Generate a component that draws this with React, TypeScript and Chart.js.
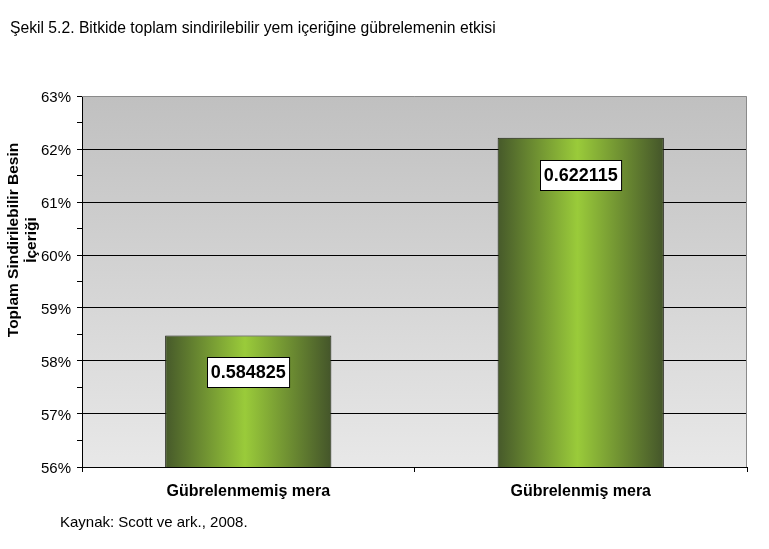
import React, { useEffect, useRef } from "react";
import { Chart, registerables } from "chart.js";

Chart.register(...registerables);

const categories = ["Gübrelenmemiş mera", "Gübrelenmiş mera"];
const values = [0.584825, 0.622115];
const yMin = 0.56;
const yMax = 0.63;
const yStep = 0.005;
const titleText = "Şekil 5.2. Bitkide toplam sindirilebilir yem içeriğine gübrelemenin etkisi";
const sourceText = "Kaynak: Scott ve ark., 2008.";
const yTitleLines = ["Toplam Sindirilebilir Besin", "İçeriği"];

const FONT = "'Liberation Sans', Arial, sans-serif";

export default function App() {
  const ref = useRef<HTMLCanvasElement | null>(null);

  useEffect(() => {
    const canvas = ref.current;
    if (!canvas) return;

    const decor = {
      id: "decor",
      beforeDraw(chart: any) {
        const { ctx, chartArea: a } = chart;
        ctx.save();
        ctx.fillStyle = "#ffffff";
        ctx.fillRect(0, 0, chart.width, chart.height);
        const g = ctx.createLinearGradient(0, a.top, 0, a.bottom);
        g.addColorStop(0, "#c0c0c0");
        g.addColorStop(1, "#e8e8e8");
        ctx.fillStyle = g;
        ctx.fillRect(a.left, a.top, a.right - a.left, a.bottom - a.top);
        ctx.restore();
      },
      beforeDatasetsDraw(chart: any) {
        const { ctx, chartArea: a } = chart;
        ctx.save();
        ctx.strokeStyle = "#8a8a8a";
        ctx.lineWidth = 1;
        ctx.beginPath();
        ctx.moveTo(a.left, a.top + 0.5);
        ctx.lineTo(a.right - 0.5, a.top + 0.5);
        ctx.lineTo(a.right - 0.5, a.bottom);
        ctx.stroke();
        ctx.restore();
      },
      afterDatasetsDraw(chart: any) {
        const { ctx } = chart;
        const meta = chart.getDatasetMeta(0);
        ctx.save();
        ctx.font = `bold 18px ${FONT}`;
        ctx.textAlign = "center";
        ctx.textBaseline = "middle";
        meta.data.forEach((bar: any, i: number) => {
          const txt = String(values[i]);
          const w = ctx.measureText(txt).width + 7;
          const h = 30;
          const cx = bar.x;
          const cy = bar.y + 37;
          const x0 = Math.round(cx - w / 2) + 0.5;
          const y0 = Math.round(cy - h / 2) + 0.5;
          ctx.fillStyle = "#ffffff";
          ctx.fillRect(x0, y0, w, h);
          ctx.strokeStyle = "#000000";
          ctx.lineWidth = 1;
          ctx.strokeRect(x0, y0, w, h);
          ctx.fillStyle = "#000000";
          ctx.fillText(txt, cx, cy + 1);
        });
        ctx.restore();
      },
      afterDraw(chart: any) {
        const { ctx } = chart;
        ctx.save();
        ctx.fillStyle = "#000000";
        ctx.textAlign = "left";
        ctx.textBaseline = "alphabetic";
        ctx.font = `15.7px ${FONT}`;
        ctx.fillText(titleText, 10, 33);
        ctx.font = `15px ${FONT}`;
        ctx.fillText(sourceText, 60, 527);
        ctx.font = `bold 15.5px ${FONT}`;
        ctx.textAlign = "center";
        ctx.textBaseline = "middle";
        ctx.translate(0, 240);
        ctx.rotate(-Math.PI / 2);
        ctx.fillText(yTitleLines[0], 0, 14);
        ctx.fillText(yTitleLines[1], 0, 32);
        ctx.restore();
      },
    };

    const chart = new Chart(canvas, {
      type: "bar",
      data: {
        labels: categories,
        datasets: [
          {
            data: values,
            backgroundColor: (c: any) => {
              const ch = c.chart;
              const a = ch.chartArea;
              if (!a) return "#8fbf3a";
              const x = ch.scales.x.getPixelForValue(c.dataIndex);
              const half = ((a.right - a.left) / categories.length) * 0.5 / 2;
              const g = ch.ctx.createLinearGradient(x - half, 0, x + half, 0);
              g.addColorStop(0, "#46592a");
              g.addColorStop(0.48, "#9acb3a");
              g.addColorStop(1, "#44552a");
              return g;
            },
            borderColor: "#1b1f12",
            borderWidth: 1,
            borderSkipped: false,
            categoryPercentage: 1,
            barPercentage: 0.5,
          },
        ],
      },
      options: {
        responsive: false,
        animation: false,
        devicePixelRatio: 1,
        layout: { padding: { top: 96, right: 22, left: 0, bottom: 0 } },
        plugins: {
          legend: { display: false },
          tooltip: { enabled: false },
          title: { display: false },
        },
        scales: {
          x: {
            afterFit: (s: any) => {
              s.height = 82;
            },
            grid: {
              offset: true,
              drawOnChartArea: false,
              tickLength: 5,
              tickColor: "#000000",
            },
            border: { color: "#000000" },
            ticks: {
              color: "#000000",
              font: { family: FONT, size: 16, weight: "bold" },
              padding: 10,
              maxRotation: 0,
            },
          },
          y: {
            min: yMin,
            max: yMax,
            afterFit: (s: any) => {
              s.width = 82;
            },
            grid: {
              tickLength: 5,
              color: (c: any) =>
                c.index % 2 === 0 && c.index !== 14 && c.index !== 0 ? "#000000" : "rgba(0,0,0,0)",
              tickColor: "#000000",
            },
            border: { color: "#000000" },
            ticks: {
              stepSize: yStep,
              autoSkip: false,
              color: "#000000",
              font: { family: FONT, size: 15 },
              padding: 6,
              labelOffset: 2,
              callback: (v: any, i: number) => (i % 2 === 0 ? Math.round(Number(v) * 100) + "%" : ""),
            },
          },
        },
      },
      plugins: [decor],
    } as any);

    return () => chart.destroy();
  }, []);

  return (
    <div style={{ position: "fixed", left: 0, top: 0, width: 769, height: 549 }}>
      <canvas ref={ref} width={769} height={549} style={{ display: "block" }} />
    </div>
  );
}
